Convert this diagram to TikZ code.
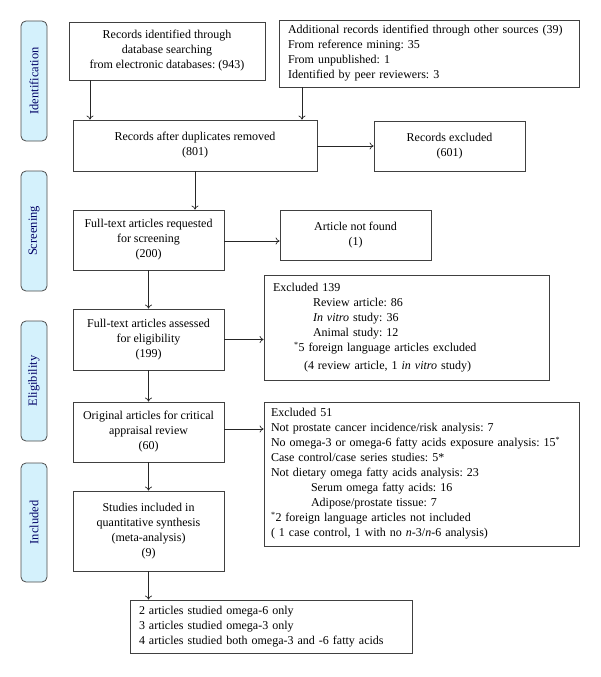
\documentclass[tikz,border=0pt]{standalone}
\usepackage{fontspec}
\setmainfont{Liberation Serif}
\usetikzlibrary{arrows.meta}
\frenchspacing
\begin{document}
\frenchspacing
\begin{tikzpicture}[x=1pt,y=-1pt,
  box/.style={draw=black!75,line width=0.8pt,inner sep=0pt,align=center,font=\fontsize{12}{15}\selectfont},
  lbox/.style={box,align=left},
  side/.style={draw=black!70,line width=0.8pt,rounded corners=5pt,fill=cyan!17,minimum width=26pt,minimum height=120pt,inner sep=0pt},
  sidetxt/.style={rotate=90,text=blue!40!black,font=\fontsize{12.5}{14}\selectfont},
  arr/.style={draw=black!85,line width=0.7pt,-{To[length=4pt,width=7pt]}}]
\useasboundingbox (0,0) rectangle (600,677);
% side labels
\node[side] (s1) at (34,81) {};
\node[sidetxt] (t1) at (s1) {Identification};
\node[side] (s2) at (34,231) {};
\node[sidetxt] (t2) at (s2) {Screening};
\node[side] (s3) at (34,381) {};
\node[sidetxt] (t3) at (s3) {Eligibility};
\node[side,minimum height=119pt] (s4) at (34,522.5) {};
\node[sidetxt] (t4) at (s4) {Included};
% boxes
\node[box,minimum width=196pt,minimum height=58pt] (b1) at (167,51) {Records identified through\\database searching\\from electronic databases: (943)};
\node[lbox,minimum width=300pt,minimum height=67pt,text width=282pt] (b2) at (429,53.5) {Additional records identified through other sources (39)\\From reference mining: 35\\From unpublished: 1\\Identified by peer reviewers: 3};
\node[box,minimum width=244pt,minimum height=51pt] (b3) at (195,145.5) {Records after duplicates removed\\(801)};
\node[box,minimum width=151pt,minimum height=50pt] (b4) at (449.5,146) {Records excluded\\(601)};
\node[box,minimum width=151pt,minimum height=60pt] (b5) at (148.5,240) {Full-text articles requested\\for screening\\(200)};
\node[box,minimum width=151pt,minimum height=50pt] (b6) at (355.5,235) {Article not found\\(1)};
\node[box,minimum width=151pt,minimum height=61pt] (b7) at (148.5,339.5) {Full-text articles assessed\\for eligibility\\(199)};
\node[lbox,minimum width=285pt,minimum height=105pt,text width=267pt] (b8) at (406.5,327.5) {Excluded 139\\
\hspace*{40pt}Review article: 86\\
\hspace*{40pt}\textit{In vitro} study: 36\\
\hspace*{40pt}Animal study: 12\\
\hspace*{21pt}\textsuperscript{*}5 foreign language articles excluded\\[3pt]
\hspace*{31pt}(4 review article, 1 \textit{in vitro} study)};
\node[box,minimum width=151pt,minimum height=60pt] (b9) at (148.5,432) {Original articles for critical\\appraisal review\\(60)};
\node[lbox,minimum width=315pt,minimum height=144pt,text width=301pt] (b10) at (421.5,474) {Excluded 51\\
Not prostate cancer incidence/risk analysis: 7\\
No omega-3 or omega-6 fatty acids exposure analysis: 15\textsuperscript{*}\\
Case control/case series studies: 5*\\
Not dietary omega fatty acids analysis: 23\\
\hspace*{40pt}Serum omega fatty acids: 16\\
\hspace*{40pt}Adipose/prostate tissue: 7\\
\textsuperscript{*}2 foreign language articles not included\\
( 1 case control, 1 with no \textit{n}-3/\textit{n}-6 analysis)};
\node[box,minimum width=151pt,minimum height=80pt] (b11) at (148.5,531) {Studies included in\\quantitative synthesis\\(meta-analysis)\\(9)};
\node[lbox,minimum width=282pt,minimum height=53pt,text width=264pt] (b12) at (271,626.5) {2 articles studied omega-6 only\\3 articles studied omega-3 only\\4 articles studied both omega-3 and -6 fatty acids};
% connectors
\coordinate (x1) at (90,0);
\coordinate (x2) at (302,0);
\draw[arr] (b1.south -| x1) -- (b3.north -| x1);
\draw[arr] (b2.south -| x2) -- (b3.north -| x2);
\draw[arr] (b3.east |- b4) -- (b4.west);
\draw[arr] (b3.south) -- (b3.south |- b5.north);
\coordinate (y6) at (0,241);
\draw[arr] (b5.east |- y6) -- (b6.west |- y6);
\draw[arr] (b5) -- (b7);
\draw[arr] (b7.east) -- (b8.west |- b7.east);
\draw[arr] (b7) -- (b9);
\coordinate (y10) at (0,429);
\draw[arr] (b9.east |- y10) -- (b10.west |- y10);
\draw[arr] (b9) -- (b11);
\draw[arr] (b11.south) -- (b11.south |- b12.north);
\end{tikzpicture}
\end{document}
